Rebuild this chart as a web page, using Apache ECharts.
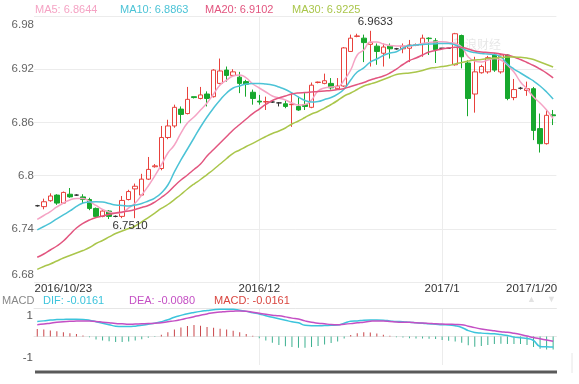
<!DOCTYPE html>
<html><head><meta charset="utf-8">
<script src="https://cdn.jsdelivr.net/npm/echarts@6/dist/echarts.min.js"></script>
<style>html,body{margin:0;padding:0;background:#fff}#c{width:579px;height:384px}</style>
</head><body><div id="c"></div>
<script>
const dates = ['2016/10/23','2016/10/24','2016/10/25','2016/10/26','2016/10/27','2016/10/28','2016/10/30','2016/10/31','2016/11/1','2016/11/2','2016/11/3','2016/11/4','2016/11/6','2016/11/7','2016/11/8','2016/11/9','2016/11/10','2016/11/11','2016/11/13','2016/11/14','2016/11/15','2016/11/16','2016/11/17','2016/11/18','2016/11/20','2016/11/21','2016/11/22','2016/11/23','2016/11/24','2016/11/25','2016/11/27','2016/11/28','2016/11/29','2016/11/30',
'2016/12/1','2016/12/2','2016/12/4','2016/12/5','2016/12/6','2016/12/7','2016/12/8','2016/12/9','2016/12/11','2016/12/12','2016/12/13','2016/12/14','2016/12/15','2016/12/16','2016/12/18','2016/12/19','2016/12/20','2016/12/21','2016/12/22','2016/12/23','2016/12/24','2016/12/25','2016/12/26','2016/12/27','2016/12/28','2016/12/29','2016/12/30','2016/12/31',
'2017/1/1','2017/1/2','2017/1/3','2017/1/4','2017/1/5','2017/1/6','2017/1/8','2017/1/9','2017/1/10','2017/1/11','2017/1/12','2017/1/13','2017/1/15','2017/1/16','2017/1/17','2017/1/18','2017/1/19','2017/1/20'];

// [open, close, low, high]
const candles = [
[6.766,6.766,6.765,6.767],[6.765,6.7705,6.762,6.774],[6.7717,6.777,6.7705,6.780],[6.778,6.769,6.767,6.779],[6.769,6.781,6.768,6.782],
[6.779,6.776,6.775,6.786],[6.778,6.778,6.777,6.779],[6.776,6.773,6.769,6.779],[6.773,6.763,6.761,6.775],[6.763,6.754,6.753,6.764],
[6.754,6.760,6.753,6.762],[6.760,6.754,6.751,6.761],[6.754,6.754,6.753,6.755],[6.754,6.772,6.752,6.777],[6.773,6.782,6.772,6.784],
[6.785,6.788,6.752,6.791],[6.778,6.796,6.777,6.802],[6.796,6.807,6.795,6.821],[6.810,6.811,6.809,6.813],[6.808,6.843,6.806,6.856],
[6.843,6.856,6.841,6.863],[6.856,6.877,6.854,6.880],[6.875,6.869,6.859,6.878],[6.870,6.886,6.869,6.900],[6.889,6.888,6.887,6.889],
[6.887,6.891,6.886,6.900],[6.892,6.887,6.878,6.895],[6.889,6.919,6.888,6.920],[6.904,6.918,6.903,6.932],[6.919,6.913,6.906,6.923],
[6.913,6.917,6.912,6.920],[6.911,6.904,6.893,6.917],[6.906,6.903,6.889,6.908],[6.894,6.887,6.880,6.897],[6.884,6.883,6.880,6.891],
[6.883,6.8835,6.874,6.889],[6.883,6.883,6.882,6.884],[6.882,6.882,6.878,6.883],[6.881,6.878,6.876,6.885],[6.880,6.8805,6.855,6.893],
[6.878,6.874,6.873,6.889],[6.880,6.878,6.874,6.893],[6.877,6.902,6.876,6.905],[6.905,6.9055,6.904,6.906],[6.904,6.907,6.903,6.915],
[6.904,6.899,6.897,6.910],[6.898,6.901,6.897,6.910],[6.901,6.944,6.900,6.945],[6.940,6.955,6.940,6.959],[6.957,6.9575,6.956,6.960],
[6.955,6.950,6.928,6.959],[6.948,6.950,6.923,6.9633],[6.946,6.940,6.925,6.949],[6.938,6.945,6.923,6.949],[6.946,6.943,6.932,6.949],
[6.943,6.943,6.942,6.944],[6.943,6.946,6.938,6.949],[6.9436,6.9473,6.928,6.953],[6.947,6.9475,6.946,6.949],[6.949,6.955,6.934,6.959],
[6.955,6.9545,6.936,6.956],[6.952,6.942,6.927,6.955],[6.9436,6.9436,6.943,6.944],[6.9436,6.9436,6.943,6.944],[6.925,6.960,6.924,6.961],
[6.958,6.934,6.921,6.959],[6.927,6.887,6.867,6.930],[6.892,6.917,6.871,6.934],[6.916,6.923,6.915,6.925],[6.917,6.933,6.915,6.935],
[6.936,6.919,6.917,6.938],[6.917,6.936,6.915,6.937],[6.936,6.887,6.885,6.937],[6.888,6.897,6.885,6.909],[6.8985,6.8985,6.897,6.900],
[6.896,6.898,6.890,6.906],[6.898,6.851,6.840,6.900],[6.853,6.836,6.826,6.870],[6.836,6.868,6.835,6.874],[6.8685,6.8675,6.857,6.874]];

const ma5 = [6.7507,6.7550,6.7595,6.7646,6.7691,6.7725,6.7742,6.7742,6.7708,6.7663,
6.7618,6.7590,6.7575,6.7584,6.7635,6.7691,6.7781,6.7883,6.7996,6.8120,
6.8255,6.8345,6.8480,6.8593,6.8661,6.8740,6.8819,6.8920,6.9022,6.9078,
6.9123,6.9135,6.9101,6.9033,6.8988,6.8943,6.8898,6.8875,6.8853,6.8819,
6.8796,6.8802,6.8853,6.8954,6.8988,6.8999,6.9003,6.9078,6.9191,6.9360,
6.9417,6.9507,6.9507,6.9484,6.9467,6.9462,6.9462,6.9462,6.9473,6.9490,
6.9501,6.9507,6.9510,6.9501,6.9490,6.9450,6.9338,6.9292,6.9281,6.9304,
6.9321,6.9304,6.9247,6.9168,6.9056,6.8977,6.8886,6.8819,6.8740,6.8644];
const ma10 = [6.7387,6.7426,6.7465,6.7511,6.7556,6.7601,6.7652,6.7691,6.7702,6.7706,
6.7702,6.7685,6.7668,6.7663,6.7657,6.7668,6.7685,6.7714,6.7747,6.7804,
6.7894,6.8041,6.8176,6.8300,6.8424,6.8548,6.8661,6.8762,6.8853,6.8932,
6.8988,6.9011,6.9033,6.9039,6.9039,6.9033,6.9022,6.8999,6.8971,6.8932,
6.8886,6.8847,6.8830,6.8836,6.8858,6.8881,6.8920,6.8977,6.9078,6.9168,
6.9214,6.9281,6.9315,6.9355,6.9383,6.9397,6.9439,6.9467,6.9473,6.9479,
6.9484,6.9488,6.9490,6.9490,6.9473,6.9439,6.9405,6.9388,6.9377,6.9371,
6.9366,6.9338,6.9259,6.9202,6.9157,6.9112,6.9067,6.9011,6.8943,6.8863];
const ma20 = [6.7079,6.7116,6.7161,6.7206,6.7262,6.7336,6.7409,6.7462,6.7499,6.7527,
6.7544,6.7564,6.7578,6.7590,6.7601,6.7618,6.7640,6.7663,6.7702,6.7753,
6.7809,6.7883,6.7950,6.8007,6.8069,6.8131,6.8221,6.8294,6.8368,6.8441,
6.8514,6.8576,6.8638,6.8700,6.8751,6.8802,6.8847,6.8875,6.8898,6.8920,
6.8932,6.8937,6.8943,6.8949,6.8954,6.8960,6.8971,6.8982,6.9005,6.9027,
6.9050,6.9078,6.9101,6.9123,6.9157,6.9202,6.9253,6.9298,6.9326,6.9360,
6.9394,6.9411,6.9428,6.9439,6.9447,6.9445,6.9428,6.9405,6.9394,6.9388,
6.9383,6.9371,6.9360,6.9338,6.9309,6.9276,6.9242,6.9202,6.9157,6.9102];
const ma30 = [6.6943,6.6975,6.7003,6.7037,6.7071,6.7099,6.7127,6.7155,6.7189,6.7234,
6.7268,6.7308,6.7347,6.7375,6.7403,6.7432,6.7477,6.7527,6.7578,6.7629,
6.7674,6.7730,6.7787,6.7849,6.7905,6.7956,6.8012,6.8069,6.8131,6.8193,
6.8252,6.8289,6.8328,6.8364,6.8402,6.8441,6.8475,6.8503,6.8537,6.8582,
6.8616,6.8655,6.8695,6.8723,6.8762,6.8802,6.8847,6.8898,6.8932,6.8971,
6.9011,6.9033,6.9056,6.9084,6.9112,6.9140,6.9152,6.9157,6.9168,6.9185,
6.9208,6.9219,6.9230,6.9242,6.9259,6.9276,6.9292,6.9304,6.9309,6.9321,
6.9326,6.9332,6.9338,6.9338,6.9334,6.9326,6.9309,6.9281,6.9253,6.9225];

const dif = [0.71,0.74,0.78,0.80,0.81,0.82,0.82,0.81,0.77,0.70,
0.63,0.56,0.49,0.47,0.47,0.49,0.53,0.58,0.63,0.70,
0.79,0.91,1.00,1.08,1.14,1.19,1.23,1.27,1.29,1.29,
1.29,1.24,1.19,1.12,1.07,0.98,0.91,0.84,0.77,0.70,
0.65,0.53,0.51,0.51,0.52,0.53,0.54,0.63,0.72,0.74,
0.77,0.78,0.78,0.77,0.74,0.71,0.70,0.67,0.65,0.63,
0.60,0.58,0.56,0.55,0.51,0.43,0.28,0.19,0.16,0.14,
0.13,0.09,0.05,-0.03,-0.06,-0.09,-0.19,-0.47,-0.49,-0.50];
const dea = [0.56,0.59,0.63,0.67,0.70,0.72,0.73,0.74,0.73,0.71,
0.68,0.65,0.62,0.60,0.58,0.59,0.60,0.61,0.63,0.65,
0.70,0.74,0.80,0.87,0.94,1.01,1.07,1.13,1.16,1.19,
1.20,1.21,1.20,1.15,1.10,1.05,1.01,0.98,0.93,0.87,
0.83,0.74,0.67,0.63,0.60,0.57,0.56,0.58,0.61,0.65,
0.68,0.72,0.74,0.73,0.71,0.69,0.67,0.67,0.65,0.64,
0.62,0.60,0.59,0.58,0.57,0.56,0.49,0.42,0.36,0.31,
0.27,0.23,0.20,0.15,0.09,0.02,-0.05,-0.11,-0.17,-0.23];
const macd = [0.36,0.33,0.28,0.25,0.20,0.15,0.12,0.05,-0.04,-0.14,
-0.19,-0.23,-0.26,-0.26,-0.24,-0.19,-0.13,-0.06,-0.02,0.08,
0.20,0.33,0.43,0.50,0.54,0.51,0.45,0.41,0.37,0.33,
0.27,0.20,0.12,0.04,-0.08,-0.19,-0.30,-0.40,-0.46,-0.50,
-0.53,-0.53,-0.50,-0.45,-0.38,-0.31,-0.24,-0.10,0.07,0.15,
0.20,0.19,0.14,0.08,0.03,-0.03,-0.05,-0.08,-0.09,-0.10,
-0.11,-0.12,-0.16,-0.20,-0.24,-0.30,-0.42,-0.48,-0.45,-0.40,
-0.36,-0.34,-0.35,-0.36,-0.36,-0.40,-0.50,-0.58,-0.62,-0.62];

const xLabelIdx = [0, 34, 62, 79];
const xLabelText = ['2016/10/23', '2016/12', '2017/1', '2017/1/20'];
const yTickMin = 6.68, yTickMax = 6.98, yTickStep = 0.06;
const macdTicks = [1, -1];
const maNames = ['MA5', 'MA10', 'MA20', 'MA30'];
const macdLegend = [['DIF', '-0.0161'], ['DEA', '-0.0080'], ['MACD', '-0.0161']];

const FONT = '"Liberation Sans", Arial, sans-serif';
const UP = '#e8413c', DOWN = '#17a82d';
const maColors = ['#f5a3c4', '#4cc3d6', '#e2557f', '#aac64b'];
const maData = [ma5, ma10, ma20, ma30];
const legendX = [35, 120, 205, 292];
const macdLegendX = [43, 129, 214];
const macdLegendColors = ['#3cc4dc', '#c44fc4', '#d9453f'];

const chart = echarts.init(document.getElementById('c'));
const graphics = [];
maNames.forEach((n, i) => {
  graphics.push({type: 'text', left: legendX[i], top: 4, style: {text: n + ': ' + maData[i][maData[i].length - 1].toFixed(4), fill: maColors[i], font: '11px ' + FONT}});
});
graphics.push({type: 'text', left: 2, top: 295, style: {text: 'MACD', fill: '#888', font: '11px ' + FONT}});
macdLegend.forEach((m, i) => {
  graphics.push({type: 'text', left: macdLegendX[i], top: 295, style: {text: m[0] + ': ' + m[1], fill: macdLegendColors[i], font: '11px ' + FONT}});
});
graphics.push({type: 'text', left: 453, top: 38, style: {text: '新浪财经', fill: 'rgba(0,0,0,0.10)', font: '12px "Noto Sans CJK SC"'}});
graphics.push({type: 'text', left: 527, top: 295, style: {text: '▲', fill: '#e2e2e2', font: '9px ' + FONT}});
graphics.push({type: 'text', left: 547, top: 295, style: {text: '▼', fill: '#e2e2e2', font: '9px ' + FONT}});
graphics.push({type: 'rect', shape: {x: 35, y: 370.5, width: 522, height: 3}, style: {fill: '#5a5a5a'}});
graphics.push({type: 'line', shape: {x1: 572, y1: 353, x2: 572, y2: 373}, style: {stroke: '#e6e6e6', lineWidth: 1}});

const splitIdx = [xLabelIdx[1], xLabelIdx[2]];

const option = {
  animation: false,
  backgroundColor: '#fff',
  grid: [
    {left: 34, width: 522.4, top: 16, height: 266},
    {left: 34, width: 522.4, top: 308, height: 57}
  ],
  xAxis: [
    {type: 'category', gridIndex: 0, data: dates, boundaryGap: true,
     axisLine: {show: false}, axisTick: {show: false},
     axisLabel: {
       interval: (i) => xLabelIdx.indexOf(i) >= 0, margin: 1,
       color: '#333', fontSize: 11.5, fontFamily: FONT,
       formatter: (v, i) => {
         const k = xLabelIdx.indexOf(i);
         if (k < 0) return '';
         if (k === 0) return '{l|' + xLabelText[k] + '}';
         if (k === xLabelIdx.length - 1) return '{r|' + xLabelText[k] + '}';
         return '{c|' + xLabelText[k] + '}';
       },
       rich: {
         l: {padding: [0, 0, 0, 52], color: '#333', fontSize: 11.5, fontFamily: FONT},
         r: {padding: [0, 43, 0, 0], color: '#333', fontSize: 11.5, fontFamily: FONT},
         c: {color: '#333', fontSize: 11.5, fontFamily: FONT}
       }
     },
     splitLine: {show: true, alignWithLabel: true, interval: (i) => splitIdx.indexOf(i) >= 0, lineStyle: {color: '#ececec'}}
    },
    {type: 'category', gridIndex: 1, data: dates, boundaryGap: true,
     axisLine: {show: true, lineStyle: {color: '#e6e6e6'}}, axisTick: {show: false}, axisLabel: {show: false},
     splitLine: {show: true, alignWithLabel: true, interval: (i) => splitIdx.indexOf(i) >= 0, lineStyle: {color: '#ececec'}}
    },
    {type: 'category', gridIndex: 1, data: dates, position: 'top', boundaryGap: true,
     axisLine: {show: true, lineStyle: {color: '#e6e6e6'}}, axisTick: {show: false}, axisLabel: {show: false}, splitLine: {show: false}
    }
  ],
  yAxis: [
    {type: 'value', gridIndex: 0, min: yTickMin, max: yTickMax, interval: yTickStep,
     axisLine: {show: false}, axisTick: {show: false},
     axisLabel: {
       margin: 0, color: '#666', fontSize: 11.5, fontFamily: FONT,
       formatter: (v) => {
         const r = Math.round(v * 100) / 100;
         const s = String(r);
         if (Math.abs(r - yTickMax) < 1e-6) return '{t|' + s + '}';
         if (Math.abs(r - yTickMin) < 1e-6) return '{b|' + s + '}';
         return '{m|' + s + '}';
       },
       rich: {
         t: {padding: [18, 0, 0, 0], color: '#666', fontSize: 11.5, fontFamily: FONT},
         b: {padding: [0, 0, 14, 0], color: '#666', fontSize: 11.5, fontFamily: FONT},
         m: {color: '#666', fontSize: 11.5, fontFamily: FONT}
       }
     },
     splitLine: {lineStyle: {color: '#ececec'}}
    },
    {type: 'value', gridIndex: 1, min: -1.35, max: 1.35,
     axisLine: {show: false}, axisTick: {show: false}, splitLine: {show: false},
     axisLabel: {customValues: macdTicks, margin: 1, color: '#555', fontSize: 11.5, fontFamily: FONT}
    }
  ],
  series: [
    {type: 'candlestick', xAxisIndex: 0, yAxisIndex: 0, data: candles, barWidth: 5,
     itemStyle: {color: 'rgba(255,255,255,0)', color0: DOWN, borderColor: UP, borderColor0: DOWN, borderColorDoji: '#333', borderWidth: 1},
     markPoint: {
       symbol: 'circle', symbolSize: 1, itemStyle: {color: 'rgba(0,0,0,0)'},
       label: {show: true, color: '#333', fontSize: 11.5, fontFamily: FONT, formatter: (p) => Number(p.value).toFixed(4)},
       data: [
         {type: 'max', valueDim: 'highest', label: {offset: [5, -9]}},
         {type: 'min', valueDim: 'lowest', label: {offset: [21, 7]}}
       ]
     }
    },
    ...maData.map((d, i) => ({type: 'line', name: maNames[i], xAxisIndex: 0, yAxisIndex: 0, data: d, smooth: true, showSymbol: false, symbol: 'none',
      lineStyle: {color: maColors[i], width: 1.5}, z: 3})),
    {type: 'bar', xAxisIndex: 1, yAxisIndex: 1, data: macd, barWidth: 1,
     itemStyle: {color: (p) => p.value >= 0 ? '#c9464a' : '#3bb08f'}},
    {type: 'line', xAxisIndex: 1, yAxisIndex: 1, data: dif, smooth: true, showSymbol: false, symbol: 'none', lineStyle: {color: '#3cc4dc', width: 1.5}},
    {type: 'line', xAxisIndex: 1, yAxisIndex: 1, data: dea, smooth: true, showSymbol: false, symbol: 'none', lineStyle: {color: '#c44fc4', width: 1.5}}
  ],
  graphic: graphics
};
chart.setOption(option);
</script>
</body></html>
